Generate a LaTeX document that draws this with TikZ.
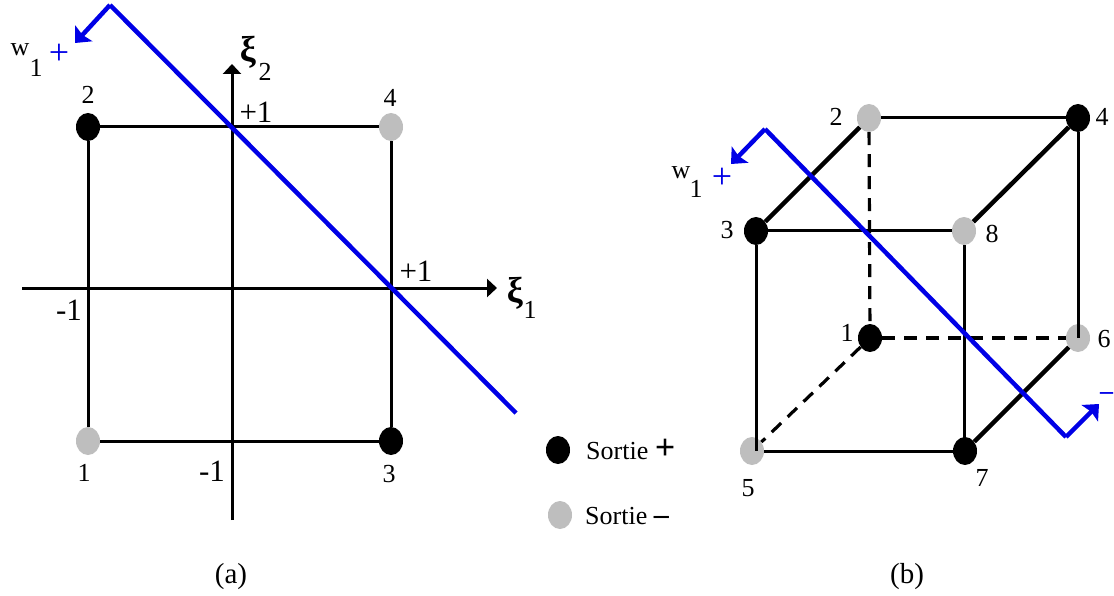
\documentclass[tikz,border=0pt]{standalone}
\usepackage{fontspec}
\setmainfont{Liberation Serif}
\usetikzlibrary{arrows.meta,shapes.geometric}
\definecolor{accent}{HTML}{0000E6}
\definecolor{off}{HTML}{BEBEBE}

\begin{document}
\begin{tikzpicture}[x=1pt, y=-1pt,
      dot/.style={ellipse, minimum width=24pt, minimum height=28pt, inner sep=0pt},
      dotblack/.style={dot, fill=black},
      dotgray/.style={dot, fill=off},
      txt/.style={font=\fontsize{26}{30}\selectfont, inner sep=0pt},
      tick/.style={font=\fontsize{31}{35}\selectfont, inner sep=0pt},
      xi/.style={font=\fontsize{36}{40}\selectfont\bfseries, inner sep=0pt},
      link/.style={line width=3pt},
      thicklink/.style={line width=4.5pt},
      dashlink/.style={line width=3.2pt, dash pattern=on 13pt off 9pt},
      axisline/.style={line width=3pt, -{Stealth[length=10pt, width=18pt, inset=0pt]}},
      sepline/.style={draw=accent, line width=4.5pt},
      normalline/.style={draw=accent, line width=4.5pt, -{Stealth[length=13pt, width=23pt, inset=2pt]}},
      blue/.style={text=accent, font=\fontsize{36}{40}\selectfont, inner sep=0pt}]
    \useasboundingbox (0,0) rectangle (1114,596);
    % square
    \foreach \n/\st/\x/\y in {a1/dotgray/88/441, a2/dotblack/88/127, a3/dotblack/391/441, a4/dotgray/391/127} {
      \node[\st] (\n) at (\x,\y) {};
    }
    \foreach \n/\ch/\x/\y in {la1/1/84/473, la2/2/88/95, la3/3/389/474, la4/4/390/98} {
      \node[txt] (\n) at (\x,\y) {\ch};
    }
    \draw[link] (a1) -- (a2);
    \draw[link] (a2) -- (a4);
    \draw[link] (a4) -- (a3);
    \draw[link] (a3) -- (a1);
    \coordinate (xa) at (22,288);
    \coordinate (xb) at (497,288);
    \coordinate (ya) at (232,520);
    \coordinate (yb) at (232,64);
    \draw[axisline] (xa) -- (xb);
    \draw[axisline] (ya) -- (yb);
    \node[tick] (tick1) at (256,112) {+1};
    \node[tick] (tick2) at (416,271) {+1};
    \node[tick] (tick3) at (69,310) {-1};
    \node[tick] (tick4) at (212,471) {-1};
    \node[xi] (xi1) at (515,293) {ξ};
    \node[txt] (xi1s) at (530,310) {1};
    \node[xi] (xi2) at (248,52) {ξ};
    \node[txt] (xi2s) at (265,72) {2};
    \coordinate (sa) at (110,5);
    \coordinate (sb) at (516,413);
    \coordinate (sc) at (75,43);
    \draw[sepline] (sa) -- (sb);
    \draw[normalline] (sa) -- (sc);
    \node[txt] (w1) at (20,50) {w};
    \node[txt] (w1s) at (36,68) {1};
    \node[blue] (wp) at (59,54) {+};
    % cube
    \foreach \n/\st/\x/\y in {b1/dotblack/870/338, b2/dotgray/869/118, b3/dotblack/756/231, b4/dotblack/1078/118, b5/dotgray/752/451, b6/dotgray/1078/338, b7/dotblack/965/451, b8/dotgray/964/231} {
      \node[\st] (\n) at (\x,\y) {};
    }
    \foreach \n/\ch/\x/\y in {lb1/1/847/333, lb2/2/836/117, lb3/3/727/230, lb4/4/1102/117, lb5/5/748/488, lb6/6/1104/339, lb7/7/982/478, lb8/8/992/234} {
      \node[txt] (\n) at (\x,\y) {\ch};
    }
    \draw[thicklink] (b3) -- (b2);
    \draw[thicklink] (b8) -- (b4);
    \draw[thicklink] (b7) -- (b6);
    \draw[link] (b2) -- (b4);
    \draw[link] (b3) -- (b8);
    \draw[link] (b5) -- (b7);
    \draw[link] (b3) -- (b3 |- b5);
    \draw[link] (b8) -- (b8 |- b7);
    \draw[link] (b4) -- (b4 |- b6);
    \draw[dashlink] (b2) -- (b1);
    \draw[dashlink] (b1) -- (b6);
    \draw[dashlink] (b1) -- (b5);
    \coordinate (ca) at (765,129);
    \coordinate (cb) at (1066,437);
    \coordinate (cc) at (731,164);
    \coordinate (cd) at (1099,404);
    \draw[normalline] (ca) -- (cc);
    \draw[sepline] (ca) -- (cb);
    \draw[normalline] (cb) -- (cd);
    \node[txt] (w2) at (681,173) {w};
    \node[txt] (w2s) at (696,189) {1};
    \node[blue] (wq) at (722,178) {+};
    \node[blue, font=\fontsize{26}{30}\selectfont\bfseries, anchor=west] (wm) at (1100,396) {–};
    % legend
    \node[dotblack] (kon) at (558,450) {};
    \node[dotgray] (koff) at (560,515) {};
    \node[txt, anchor=west] (lon) at (586,449) {Sortie {\fontsize{36}{40}\selectfont\textbf{+}}};
    \node[txt, anchor=west] (loff) at (585,516) {Sortie {\fontsize{30}{34}\selectfont\textbf{–}}};
    % captions
    \node[txt, font=\fontsize{29}{33}\selectfont] (capa) at (231,577) {(a)};
    \node[txt, font=\fontsize{29}{33}\selectfont] (capb) at (907,577) {(b)};
\end{tikzpicture}
\end{document}
